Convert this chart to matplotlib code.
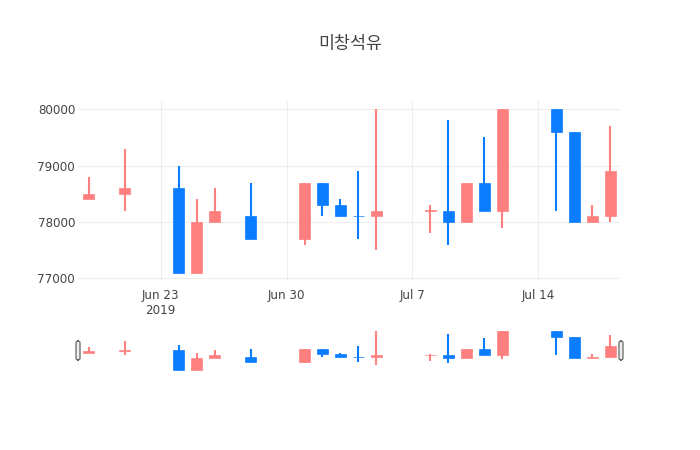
import datetime as dt
import matplotlib
matplotlib.use("Agg")
import matplotlib.pyplot as plt
import matplotlib.dates as mdates
from matplotlib.patches import FancyBboxPatch

plt.rcParams['font.family'] = ['DejaVu Sans', 'Noto Sans CJK KR']

# 일별 시세 (2019)
dates = ["2019-06-19", "2019-06-21", "2019-06-24", "2019-06-25", "2019-06-26",
         "2019-06-28", "2019-07-01", "2019-07-02", "2019-07-03", "2019-07-04",
         "2019-07-05", "2019-07-08", "2019-07-09", "2019-07-10", "2019-07-11",
         "2019-07-12", "2019-07-15", "2019-07-16", "2019-07-17", "2019-07-18"]
opens = [78400, 78500, 78600, 77100, 78000, 78100, 77700, 78700, 78300, 78100,
         78100, 78200, 78200, 78000, 78700, 78200, 80000, 79600, 78000, 78100]
highs = [78800, 79300, 79000, 78400, 78600, 78700, 78700, 78700, 78400, 78900,
         80000, 78300, 79800, 78700, 79500, 80000, 80000, 79600, 78300, 79700]
lows = [78400, 78200, 77100, 77100, 78000, 77700, 77600, 78100, 78100, 77700,
        77500, 77800, 77600, 78000, 78200, 77900, 78200, 78000, 78000, 78000]
closes = [78500, 78600, 77100, 78000, 78200, 77700, 78700, 78300, 78100, 78100,
          78200, 78200, 78000, 78700, 78200, 80000, 79600, 78000, 78100, 78900]

title = "미창석유"
y_ticks = [77000, 78000, 79000, 80000]
x_tick_dates = ["2019-06-23", "2019-06-30", "2019-07-07", "2019-07-14"]
x_tick_labels = ["Jun 23\n2019", "Jun 30", "Jul 7", "Jul 14"]

UP = "#ff7f7f"
DOWN = "#0a7cff"

x = [mdates.date2num(dt.datetime.strptime(d, "%Y-%m-%d")) for d in dates]

# 같은 값이면 이전 방향 색을 그대로 사용 (plotly 방식)
colors = []
prev = UP
for o, c in zip(opens, closes):
    if c > o:
        prev = UP
    elif c < o:
        prev = DOWN
    colors.append(prev)


def draw_candles(ax, wick_lw, body_w):
    for xi, o, h, l, c, col in zip(x, opens, highs, lows, closes, colors):
        ax.vlines(xi, l, h, color=col, linewidth=wick_lw, zorder=2)
        bottom = min(o, c)
        height = max(abs(c - o), 15)
        ax.bar(xi, height, bottom=bottom, width=body_w, color=col,
               edgecolor=col, linewidth=0.5, zorder=3)


fig = plt.figure(figsize=(7, 4.5), dpi=100)
W, H = 700, 450

xlim = (x[0] - 0.6, x[-1] + 0.55)
ylim = (76955, 80145)

# 메인 차트
ax = fig.add_axes([78 / W, (H - 281) / H, (620 - 78) / W, (281 - 101) / H])
draw_candles(ax, 1.5, 0.6)
ax.set_xlim(xlim)
ax.set_ylim(ylim)
ax.set_yticks(y_ticks)
ax.set_yticklabels([str(v) for v in y_ticks])
ax.set_xticks([mdates.date2num(dt.datetime.strptime(d, "%Y-%m-%d")) for d in x_tick_dates])
ax.set_xticklabels(x_tick_labels, linespacing=1.2)
ax.grid(True, color="#eeeeee", linewidth=0.8, zorder=0)
ax.set_axisbelow(True)
for s in ax.spines.values():
    s.set_visible(False)
ax.tick_params(length=0, labelsize=8.6, colors="#444444", pad=6)
ax.tick_params(axis="y", pad=2)

# 범위 슬라이더
sl = fig.add_axes([78 / W, (H - 372) / H, (620 - 78) / W, (372 - 329.5) / H])
draw_candles(sl, 1.5, 0.6)
sl.set_xlim(xlim)
sl.set_ylim(ylim)
sl.axis("off")

for px in (78, 621):
    fig.patches.append(FancyBboxPatch(((px - 2) / W, (H - 360) / H), 4 / W, 19 / H,
                                      boxstyle="round,pad=0,rounding_size=0.004",
                                      transform=fig.transFigure, facecolor="#eeeeee",
                                      edgecolor="#666666", linewidth=0.9, zorder=5))

fig.text(350 / W, (H - 44) / H, title, ha="center", va="center", fontsize=12.5,
         color="#444444", family=['Noto Sans CJK KR', 'DejaVu Sans'])

fig.savefig("out.png", dpi=100)
